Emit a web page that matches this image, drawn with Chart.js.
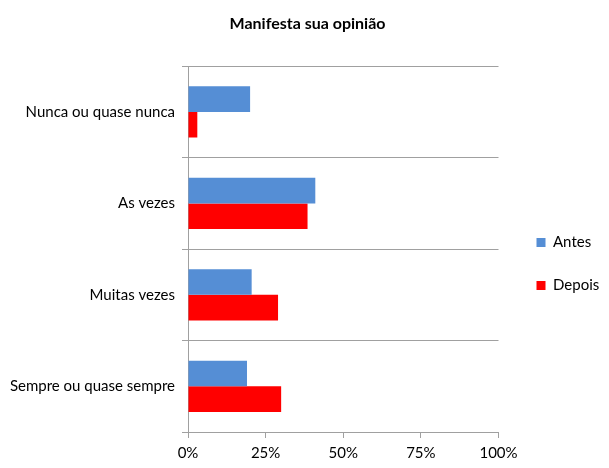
<!DOCTYPE html>
<html>
<head>
<meta charset="utf-8">
<script src="https://cdn.jsdelivr.net/npm/chart.js@4"></script>
<style>
  html, body { margin: 0; padding: 0; background: #fff; }
  #wrap { width: 609px; height: 468px; }
</style>
</head>
<body>
<div id="wrap"><canvas id="chart" width="609" height="468"></canvas></div>
<script>
const categories = ['Nunca ou quase nunca', 'As vezes', 'Muitas vezes', 'Sempre ou quase sempre'];
const antes = [20, 41, 20.5, 19];
const depois = [3, 38.5, 29, 30];
const tickLabels = ['0%', '25%', '50%', '75%', '100%'];

const font = "Lato, 'Open Sans', sans-serif";

new Chart(document.getElementById('chart'), {
  type: 'bar',
  data: {
    labels: categories,
    datasets: [
      { label: 'Antes', data: antes, backgroundColor: '#558ED5', categoryPercentage: 0.56, barPercentage: 1 },
      { label: 'Depois', data: depois, backgroundColor: '#FF0000', categoryPercentage: 0.56, barPercentage: 1 }
    ]
  },
  options: {
    indexAxis: 'y',
    responsive: false,
    animation: false,
    layout: { padding: { left: 6, right: 0, top: 4, bottom: 0 } },
    plugins: {
      title: {
        display: true,
        text: 'Manifesta sua opinião',
        color: '#000',
        font: { family: font, size: 16, weight: 'bold' },
        padding: { top: 10, bottom: 33 }
      },
      legend: {
        position: 'right',
        // empty title only pushes the items down a bit
        title: { display: true, text: ' ', font: { size: 15 }, padding: { top: 19, bottom: 19 } },
        labels: {
          color: '#000',
          font: { family: font, size: 15 },
          boxWidth: 9,
          boxHeight: 9,
          padding: 28
        }
      },
      tooltip: { enabled: false }
    },
    scales: {
      x: {
        min: 0,
        max: 100,
        ticks: {
          stepSize: 25,
          color: '#000',
          font: { family: font, size: 15 },
          padding: 6,
          callback: (v, i) => tickLabels[i]
        },
        grid: { drawOnChartArea: false, drawTicks: true, tickLength: 6, color: '#A0A0A0' },
        border: { color: '#A0A0A0' }
      },
      y: {
        afterFit: s => { s.width = 182; },
        ticks: { color: '#000', font: { family: font, size: 15 }, padding: 7 },
        grid: { color: '#A0A0A0', tickLength: 6 },
        border: { color: '#A0A0A0' }
      },
      // blank spacer between plot and legend
      y2: {
        position: 'right',
        afterFit: s => { s.width = 10; },
        ticks: { display: false },
        grid: { display: false },
        border: { display: false }
      }
    }
  }
});
</script>
</body>
</html>
